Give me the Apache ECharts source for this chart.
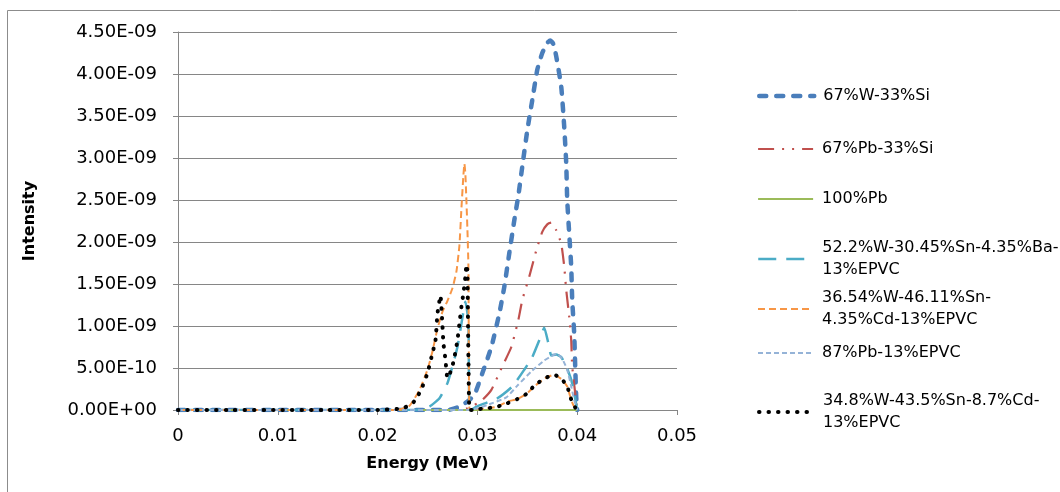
<!DOCTYPE html>
<html>
<head>
<meta charset="utf-8">
<script src="https://cdn.jsdelivr.net/npm/echarts@6/dist/echarts.min.js"></script>
<style>
  html, body { margin: 0; padding: 0; background: #fff; }
  #chart { width: 1060px; height: 492px; }
</style>
</head>
<body>
<div id="chart"></div>
<script>
// ---- Data (energy in MeV, intensity in units of 1E-09) ----
const xTicks = [0, 0.01, 0.02, 0.03, 0.04, 0.05];
const yTicks = [0, 0.5, 1, 1.5, 2, 2.5, 3, 3.5, 4, 4.5];

const seriesNames = [
  '67%W-33%Si',
  '67%Pb-33%Si',
  '100%Pb',
  '52.2%W-30.45%Sn-4.35%Ba-\n13%EPVC',
  '36.54%W-46.11%Sn-\n4.35%Cd-13%EPVC',
  '87%Pb-13%EPVC',
  '34.8%W-43.5%Sn-8.7%Cd-\n13%EPVC'
];

const w67si_x = [0, 0.005, 0.010, 0.015, 0.020, 0.025, 0.027, 0.028, 0.029, 0.0297, 0.0305, 0.0314, 0.0322, 0.0327, 0.0332, 0.0337, 0.0341, 0.0345, 0.035, 0.0355, 0.036, 0.0365, 0.037, 0.0373, 0.0376, 0.0379, 0.0384, 0.0387, 0.0389, 0.039, 0.0392, 0.0394, 0.0395, 0.0397, 0.0398, 0.0399, 0.04];
const w67si_y = [0, 0, 0, 0, 0, 0, 0, 0.03, 0.10, 0.18, 0.44, 0.75, 1.15, 1.47, 1.87, 2.26, 2.55, 2.90, 3.33, 3.69, 4.05, 4.25, 4.37, 4.40, 4.36, 4.21, 3.85, 3.37, 2.94, 2.50, 2.10, 1.71, 1.31, 0.91, 0.52, 0.16, 0.0];

const pb67si_x = [0, 0.005, 0.01, 0.015, 0.02, 0.025, 0.028, 0.029, 0.0297, 0.0305, 0.0314, 0.0325, 0.0334, 0.0341, 0.0345, 0.0352, 0.0359, 0.0365, 0.037, 0.0374, 0.0379, 0.0384, 0.0387, 0.0389, 0.0392, 0.0394, 0.0395, 0.0398, 0.04];
const pb67si_y = [0, 0, 0, 0, 0, 0, 0, 0.02, 0.06, 0.12, 0.24, 0.52, 0.75, 1.07, 1.31, 1.59, 1.90, 2.12, 2.21, 2.23, 2.14, 1.98, 1.71, 1.43, 1.11, 0.83, 0.52, 0.20, 0];

const pb100_x = [0, 0.01, 0.02, 0.03, 0.04];
const pb100_y = [0, 0, 0, 0, 0];

const wsnba_x = [0, 0.005, 0.01, 0.015, 0.02, 0.024, 0.0252, 0.0262, 0.027, 0.0275, 0.028, 0.0284, 0.0288, 0.0291, 0.0292, 0.0295, 0.0299, 0.032, 0.0335, 0.0347, 0.0355, 0.0362, 0.0367, 0.0371, 0.0374, 0.0379, 0.0384, 0.0389, 0.0394, 0.0397, 0.04];
const wsnba_y = [0, 0, 0, 0, 0, 0, 0.04, 0.14, 0.32, 0.52, 0.75, 1.03, 1.29, 1.05, 0, 0.01, 0.04, 0.14, 0.28, 0.48, 0.63, 0.83, 0.98, 0.80, 0.65, 0.66, 0.63, 0.52, 0.36, 0.20, 0];

const wsncd436_x = [0, 0.005, 0.01, 0.015, 0.02, 0.022, 0.0232, 0.0242, 0.025, 0.0255, 0.026, 0.0265, 0.027, 0.0275, 0.0279, 0.0282, 0.0284, 0.0286, 0.0287, 0.0288, 0.029, 0.0291, 0.0292, 0.0295, 0.030, 0.031, 0.032, 0.033, 0.034, 0.0349, 0.0358, 0.0368, 0.0377, 0.0385, 0.039, 0.0393, 0.0396, 0.04];
const wsncd436_y = [0, 0, 0, 0, 0, 0, 0.05, 0.24, 0.48, 0.70, 0.97, 1.17, 1.30, 1.45, 1.65, 1.96, 2.40, 2.80, 2.93, 2.80, 2.15, 1.70, 0, 0, 0.01, 0.02, 0.04, 0.10, 0.13, 0.19, 0.29, 0.38, 0.42, 0.36, 0.28, 0.16, 0.06, 0];

const pb87_x = [0, 0.005, 0.01, 0.015, 0.02, 0.025, 0.029, 0.030, 0.031, 0.0329, 0.034, 0.0355, 0.0367, 0.0377, 0.038, 0.0385, 0.039, 0.0394, 0.0397, 0.0399, 0.04];
const pb87_y = [0, 0, 0, 0, 0, 0, 0, 0.02, 0.06, 0.15, 0.29, 0.47, 0.59, 0.66, 0.67, 0.61, 0.48, 0.28, 0.12, 0.05, 0];

const wsncd87_x = [0, 0.005, 0.01, 0.015, 0.02, 0.0225, 0.0235, 0.024, 0.0245, 0.025, 0.0254, 0.0258, 0.026, 0.0263, 0.0265, 0.0266, 0.0268, 0.027, 0.0274, 0.0277, 0.028, 0.0282, 0.0284, 0.0286, 0.0288, 0.0289, 0.029, 0.0292, 0.0295, 0.030, 0.031, 0.032, 0.033, 0.034, 0.0349, 0.0358, 0.0368, 0.0377, 0.0385, 0.039, 0.0393, 0.0396, 0.0398, 0.04];
const wsncd87_y = [0, 0, 0, 0, 0, 0.02, 0.08, 0.16, 0.28, 0.44, 0.63, 0.83, 1.15, 1.36, 1.00, 0.79, 0.60, 0.38, 0.48, 0.63, 0.83, 1.03, 1.23, 1.39, 1.59, 1.73, 1.65, 0, 0, 0.01, 0.02, 0.04, 0.08, 0.13, 0.19, 0.30, 0.38, 0.42, 0.36, 0.28, 0.16, 0.06, 0.03, 0];

const seriesX = [w67si_x, pb67si_x, pb100_x, wsnba_x, wsncd436_x, pb87_x, wsncd87_x];
const seriesY = [w67si_y, pb67si_y, pb100_y, wsnba_y, wsncd436_y, pb87_y, wsncd87_y];

// ---- Styles ----
const FONT = 'DejaVu Sans';
const styles = [
  { color: '#4A7EBB', width: 4.5, type: [7, 10], cap: 'round' },
  { color: '#C0504D', width: 2.2, type: [16, 8, 2, 8, 2, 8], cap: 'butt' },
  { color: '#9BBB59', width: 2.2, type: 'solid', cap: 'butt' },
  { color: '#4BACC6', width: 2.5, type: [18, 10], cap: 'butt' },
  { color: '#F79646', width: 2, type: [7, 4], cap: 'butt' },
  { color: '#95B3D7', width: 2, type: [5, 3], cap: 'butt' },
  { color: '#000000', width: 4, type: [0.5, 9], cap: 'round' }
];
const legendCenters = [96, 149, 199, 251, 301, 353, 404];

function fmtExp(v) {
  const s = (v * 1e-9).toExponential(2);
  const parts = s.split('e');
  const ex = parseInt(parts[1], 10);
  const sign = ex < 0 ? '-' : '+';
  return parts[0] + 'E' + sign + String(Math.abs(ex)).padStart(2, '0');
}

const series = seriesNames.map((name, i) => ({
  name: name,
  type: 'line',
  symbol: 'none',
  smooth: 0.15,
  animation: false,
  data: seriesX[i].map((x, j) => [x, seriesY[i][j]]),
  lineStyle: { color: styles[i].color, width: styles[i].width, type: styles[i].type, cap: styles[i].cap, join: 'round' },
  itemStyle: { color: styles[i].color }
}));

const legends = seriesNames.map((name, i) => ({
  data: [name],
  orient: 'vertical',
  left: 757,
  top: legendCenters[i] - 10.75,
  padding: 0,
  itemWidth: 55,
  itemHeight: 14,
  selectedMode: false,
  itemStyle: { opacity: 0, borderWidth: 0 },
  lineStyle: { width: 'inherit' },
  textStyle: { fontFamily: FONT, fontSize: 16, color: '#000', lineHeight: 21.5, height: 21.5, padding: [0, 0, 0, 4] }
}));

const chart = echarts.init(document.getElementById('chart'), null, { renderer: 'canvas' });
chart.setOption({
  backgroundColor: '#ffffff',
  animation: false,
  graphic: [{
    type: 'rect', z: -10, silent: true,
    shape: { x: 7.5, y: 10.5, width: 1200, height: 700 },
    style: { fill: 'none', stroke: '#8c8c8c', lineWidth: 1 }
  }],
  legend: legends,
  grid: { left: 178, right: 383, top: 32, bottom: 82, containLabel: false },
  xAxis: {
    type: 'value',
    min: xTicks[0], max: xTicks[xTicks.length - 1], interval: 0.01,
    name: 'Energy (MeV)', nameLocation: 'middle', nameGap: 46,
    nameTextStyle: { fontFamily: FONT, fontSize: 16, fontWeight: 'bold', color: '#000' },
    axisLine: { show: true, lineStyle: { color: '#868686', width: 1 } },
    axisTick: { show: true, length: 5, inside: false, lineStyle: { color: '#868686' } },
    axisLabel: { fontFamily: FONT, fontSize: 18, color: '#000', margin: 17 },
    splitLine: { show: false }
  },
  yAxis: {
    type: 'value',
    min: yTicks[0], max: yTicks[yTicks.length - 1], interval: 0.5,
    name: 'Intensity', nameLocation: 'middle', nameGap: 140,
    nameTextStyle: { fontFamily: FONT, fontSize: 16, fontWeight: 'bold', color: '#000' },
    axisLine: { show: true, lineStyle: { color: '#868686', width: 1 } },
    axisTick: { show: true, length: 5, inside: false, lineStyle: { color: '#868686' } },
    axisLabel: { fontFamily: FONT, fontSize: 18, color: '#000', margin: 21, formatter: fmtExp },
    splitLine: { show: true, lineStyle: { color: '#868686', width: 1 } }
  },
  series: series
});
</script>
</body>
</html>
